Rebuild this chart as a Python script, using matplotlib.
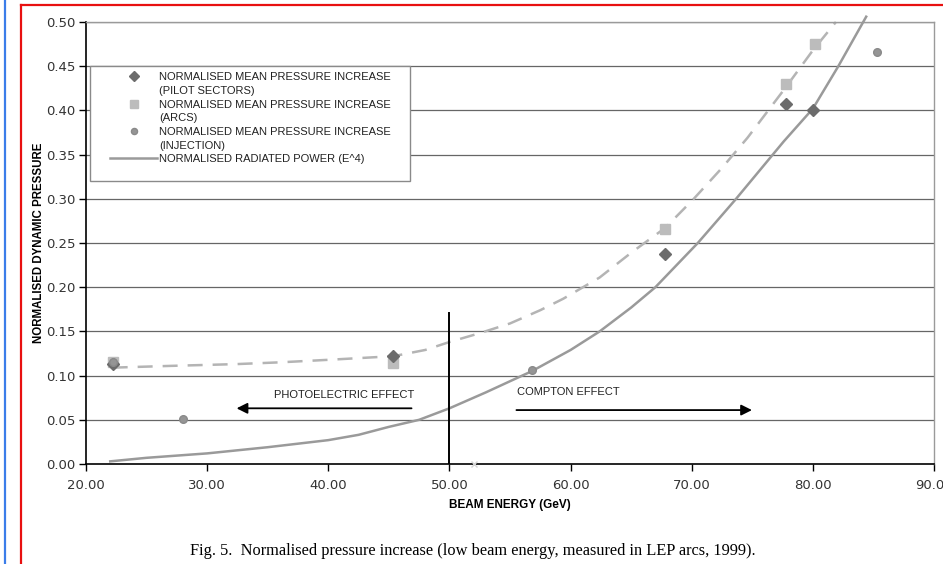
import numpy as np
import matplotlib
matplotlib.use('Agg')
import matplotlib.pyplot as plt
from matplotlib.lines import Line2D
from matplotlib.patches import Rectangle
from matplotlib.legend_handler import HandlerLine2D

plt.rcParams['font.family'] = ['Liberation Sans', 'DejaVu Sans']

# measured points (GeV, normalised pressure)
pilot_x = [22.2, 45.3, 67.8, 77.8, 80.0]
pilot_y = [0.113, 0.122, 0.238, 0.407, 0.401]
arcs_x = [22.2, 45.3, 67.8, 77.8, 80.2]
arcs_y = [0.115, 0.114, 0.266, 0.430, 0.475]
inj_x = [22.2, 28.0, 56.8, 85.3]
inj_y = [0.115, 0.051, 0.106, 0.466]
extra_x = [52.0]
extra_y = [0.0]

# radiated power curve (solid)
power_x = [22.0, 25.0, 30.0, 35.0, 40.0, 42.5, 45.0, 47.5, 50.0, 53.0, 56.8, 60.0,
           62.4, 65.0, 67.0, 70.5, 73.6, 77.6, 80.0, 82.1, 84.4]
power_y = [0.003, 0.007, 0.012, 0.019, 0.027, 0.033, 0.042, 0.050, 0.063, 0.081, 0.105, 0.129,
           0.150, 0.177, 0.200, 0.250, 0.299, 0.365, 0.402, 0.450, 0.506]

# fit through arcs points (dashed)
fit_x = [22.2, 27.0, 32.4, 36.0, 40.2, 45.4, 48.0, 50.0, 52.5, 55.0, 57.5, 59.4,
         62.4, 65.0, 67.8, 70.1, 72.5, 74.6, 77.7, 80.0, 81.9]
fit_y = [0.109, 0.111, 0.113, 0.115, 0.118, 0.122, 0.129, 0.138, 0.148, 0.159, 0.174, 0.187,
         0.211, 0.239, 0.267, 0.299, 0.335, 0.369, 0.425, 0.468, 0.500]

fig = plt.figure(figsize=(9.43, 5.64), dpi=100)
ax = fig.add_axes([0.0912, 0.1773, 0.8993, 0.7837])

for y in np.arange(0.05, 0.51, 0.05):
    ax.axhline(y, color='#666666', lw=0.9, zorder=1)

ax.plot(fit_x, fit_y, color='#b4b4b4', lw=1.8, dashes=(6, 4), zorder=2, clip_on=False)
pw, = ax.plot(power_x, power_y, color='#9a9a9a', lw=1.8, zorder=2, clip_on=False)

sq, = ax.plot(arcs_x, arcs_y, 's', ms=6.5, color='#bcbcbc', mec='#bcbcbc', zorder=3)
dm, = ax.plot(pilot_x, pilot_y, 'D', ms=6.3, color='#6c6c6c', mec='#6c6c6c', zorder=4)
ci, = ax.plot(inj_x, inj_y, 'o', ms=5.5, color='#959595', mec='#8a8a8a', zorder=5)
ax.plot(extra_x, extra_y, 'x', ms=5, color='#d6d6d6', mew=1, zorder=5, clip_on=False)

# boundary between the two regimes
ax.plot([50, 50], [0, 0.171], color='black', lw=1.4, zorder=6)

ax.annotate('', xy=(32.2, 0.063), xytext=(47.1, 0.063),
            arrowprops=dict(arrowstyle='-|>', color='black', lw=1.3, mutation_scale=16))
ax.text(41.3, 0.078, 'PHOTOELECTRIC EFFECT', fontsize=8, ha='center', va='center', color='#222222')
ax.annotate('', xy=(75.2, 0.061), xytext=(55.3, 0.061),
            arrowprops=dict(arrowstyle='-|>', color='black', lw=1.3, mutation_scale=16))
ax.text(55.6, 0.082, 'COMPTON EFFECT', fontsize=8, ha='left', va='center', color='#222222')

ax.set_xlim(20, 90)
ax.set_ylim(0, 0.5)
ax.set_xticks(np.arange(20, 91, 10))
ax.set_yticks(np.arange(0, 0.51, 0.05))
ax.xaxis.set_major_formatter(matplotlib.ticker.FormatStrFormatter('%.2f'))
ax.yaxis.set_major_formatter(matplotlib.ticker.FormatStrFormatter('%.2f'))
ax.tick_params(axis='x', direction='out', length=5, width=1, pad=6, labelsize=9.5, labelcolor='#333333')
ax.tick_params(axis='y', direction='out', length=5, width=1, pad=2.5, labelsize=9.5, labelcolor='#333333')
for lab in ax.get_xticklabels() + ax.get_yticklabels():
    lab.set_family('DejaVu Sans')

for s in ['left', 'bottom']:
    ax.spines[s].set_color('black')
    ax.spines[s].set_linewidth(1.2)
for s in ['top', 'right']:
    ax.spines[s].set_color('#9a9a9a')
    ax.spines[s].set_linewidth(1.0)

ax.set_xlabel('BEAM ENERGY (GeV)', fontsize=8.5, fontweight='bold', labelpad=4.5)
ax.set_ylabel('NORMALISED DYNAMIC PRESSURE', fontsize=8.3, fontweight='bold')
ax.yaxis.set_label_coords(-0.0478, 0.5)

blank = Line2D([], [], linestyle='none')
handles = [dm, blank, sq, blank, ci, blank, pw]
labels = ['NORMALISED MEAN PRESSURE INCREASE', '(PILOT SECTORS)',
          'NORMALISED MEAN PRESSURE INCREASE', '(ARCS)',
          'NORMALISED MEAN PRESSURE INCREASE', '(INJECTION)',
          'NORMALISED RADIATED POWER (E^4)']
leg = ax.legend(handles, labels, loc='upper left', bbox_to_anchor=(0.0106, 0.886),
                frameon=False, fontsize=8, borderpad=0, borderaxespad=0,
                handlelength=5.6, handletextpad=0.18, labelspacing=0.33,
                markerscale=0.8, handler_map={Line2D: HandlerLine2D(xpad=1.35)})
for t in leg.get_texts():
    t.set_color('#222222')
ax.add_patch(Rectangle((0.005, 0.64), 0.377, 0.26, transform=ax.transAxes,
                       fill=True, facecolor='white', edgecolor='#8a8a8a', lw=1.0, zorder=7))
leg.set_zorder(8)

fig.text(0.501, 0.023, 'Fig. 5.  Normalised pressure increase (low beam energy, measured in LEP arcs, 1999).',
         family=['Liberation Serif', 'DejaVu Serif'], fontsize=11.8, ha='center', va='center')

# page frame lines of the screenshot
fig.add_artist(Line2D([5 / 943, 5 / 943], [0, 1], color='#3b7de9', lw=1.6, transform=fig.transFigure))
fig.add_artist(Line2D([21 / 943, 21 / 943], [0, 1 - 5 / 564], color='#e81010', lw=1.6, transform=fig.transFigure))
fig.add_artist(Line2D([21 / 943, 1], [1 - 5 / 564, 1 - 5 / 564], color='#e81010', lw=1.6, transform=fig.transFigure))

fig.savefig('out.png', dpi=100)
